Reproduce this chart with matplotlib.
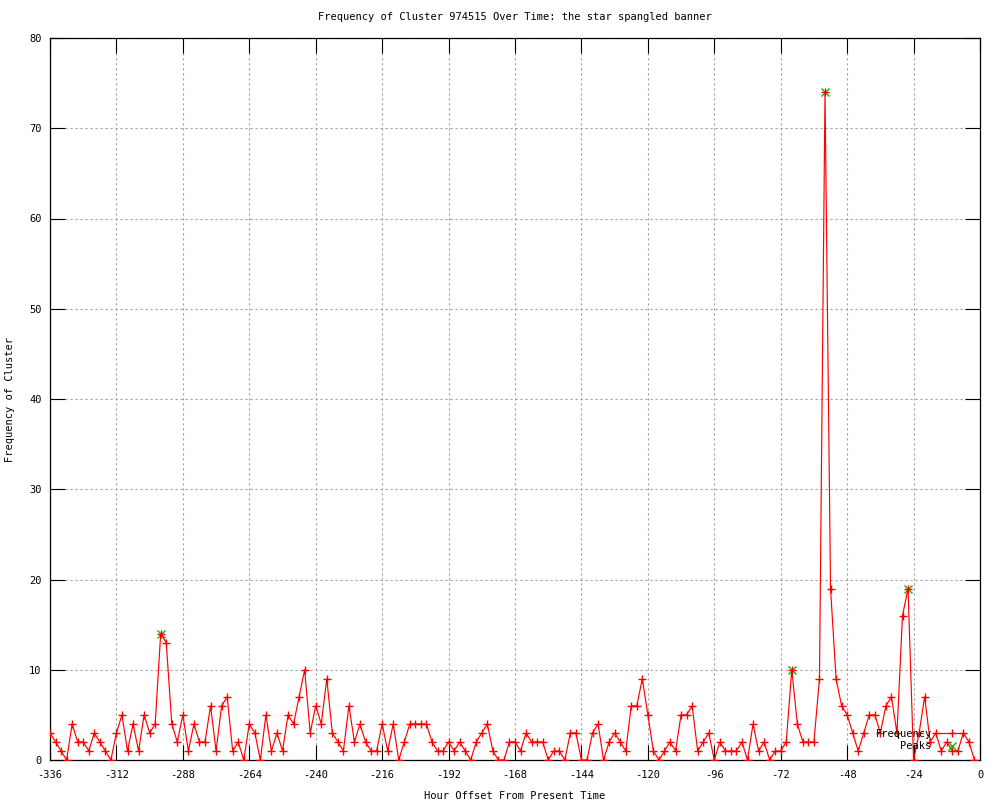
import numpy as np
import matplotlib
matplotlib.use('Agg')
import matplotlib.pyplot as plt

# Hourly buckets (every 2 hours) from two weeks ago up to now
hours = np.arange(-336, 0, 2)

# Frequency of cluster per bucket (rows of 12 buckets)
frequency = [
    3, 2, 1, 0, 4, 2, 2, 1, 3, 2, 1, 0,      # -336 .. -314
    3, 5, 1, 4, 1, 5, 3, 4, 14, 13, 4, 2,    # -312 .. -290
    5, 1, 4, 2, 2, 6, 1, 6, 7, 1, 2, 0,      # -288 .. -266
    4, 3, 0, 5, 1, 3, 1, 5, 4, 7, 10, 3,     # -264 .. -242
    6, 4, 9, 3, 2, 1, 6, 2, 4, 2, 1, 1,      # -240 .. -218
    4, 1, 4, 0, 2, 4, 4, 4, 4, 2, 1, 1,      # -216 .. -194
    2, 1, 2, 1, 0, 2, 3, 4, 1, 0, 0, 2,      # -192 .. -170
    2, 1, 3, 2, 2, 2, 0, 1, 1, 0, 3, 3,      # -168 .. -146
    0, 0, 3, 4, 0, 2, 3, 2, 1, 6, 6, 9,      # -144 .. -122
    5, 1, 0, 1, 2, 1, 5, 5, 6, 1, 2, 3,      # -120 .. -98
    0, 2, 1, 1, 1, 2, 0, 4, 1, 2, 0, 1,      # -96 .. -74
    1, 2, 10, 4, 2, 2, 2, 9, 74, 19, 9, 6,   # -72 .. -50
    5, 3, 1, 3, 5, 5, 3, 6, 7, 3, 16, 19,    # -48 .. -26
    0, 3, 7, 2, 3, 1, 2, 1, 1, 3, 2, 0,      # -24 .. -2
]

# Detected peaks
peak_hours = [-296, -68, -56, -26]
peak_values = [14, 10, 74, 19]

x_ticks = list(range(-336, 1, 24))
y_ticks = list(range(0, 81, 10))

title = 'Frequency of Cluster 974515 Over Time: the star spangled banner'
font = 'DejaVu Sans Mono'
fs = 7.5

fig = plt.figure(figsize=(10, 8), dpi=100)
ax = fig.add_axes([0.05, 0.05, 0.93, 0.9025])

# Peaks drawn first so the red crosses sit on top
peaks_line, = ax.plot(peak_hours, peak_values, linestyle='none', marker='x',
                      color='#00c000', markersize=5.5, markeredgewidth=1, zorder=3)
freq_line, = ax.plot(hours, frequency, color='#ff0000', linewidth=0.85,
                     marker='+', markersize=6, markeredgewidth=1, zorder=4)

ax.set_xlim(-336, 0)
ax.set_ylim(0, 80)
ax.set_xticks(x_ticks)
ax.set_yticks(y_ticks)
ax.set_xticklabels([str(t) for t in x_ticks], fontfamily=font, fontsize=fs)
ax.set_yticklabels([str(t) for t in y_ticks], fontfamily=font, fontsize=fs)
ax.tick_params(direction='in', length=11, width=0.8, top=True, right=True,
               colors='black')
ax.tick_params(axis='x', pad=7)
ax.tick_params(axis='y', pad=6)

# Gnuplot style dotted grid
ax.grid(True, color='#a0a0a0', linestyle=(0, (2, 2.5)), linewidth=0.8)
ax.set_axisbelow(True)
for s in ax.spines.values():
    s.set_linewidth(0.9)
    s.set_color('black')

ax.set_title(title, fontfamily=font, fontsize=fs, pad=13)
ax.set_xlabel('Hour Offset From Present Time', fontfamily=font, fontsize=fs,
              labelpad=8)
ax.set_ylabel('Frequency of Cluster', fontfamily=font, fontsize=fs, labelpad=10)

# Legend: text first, sample after, right aligned text via monospace padding
leg = ax.legend([freq_line, peaks_line], ['Frequency', '    Peaks'],
                loc='lower right', bbox_to_anchor=(0.985, 0.012),
                frameon=False, markerfirst=False, borderpad=0,
                borderaxespad=0, handlelength=2.7, handletextpad=0.6,
                labelspacing=0.25, prop={'family': font, 'size': fs})
leg.set_zorder(5)

fig.savefig('out.png', dpi=100)
